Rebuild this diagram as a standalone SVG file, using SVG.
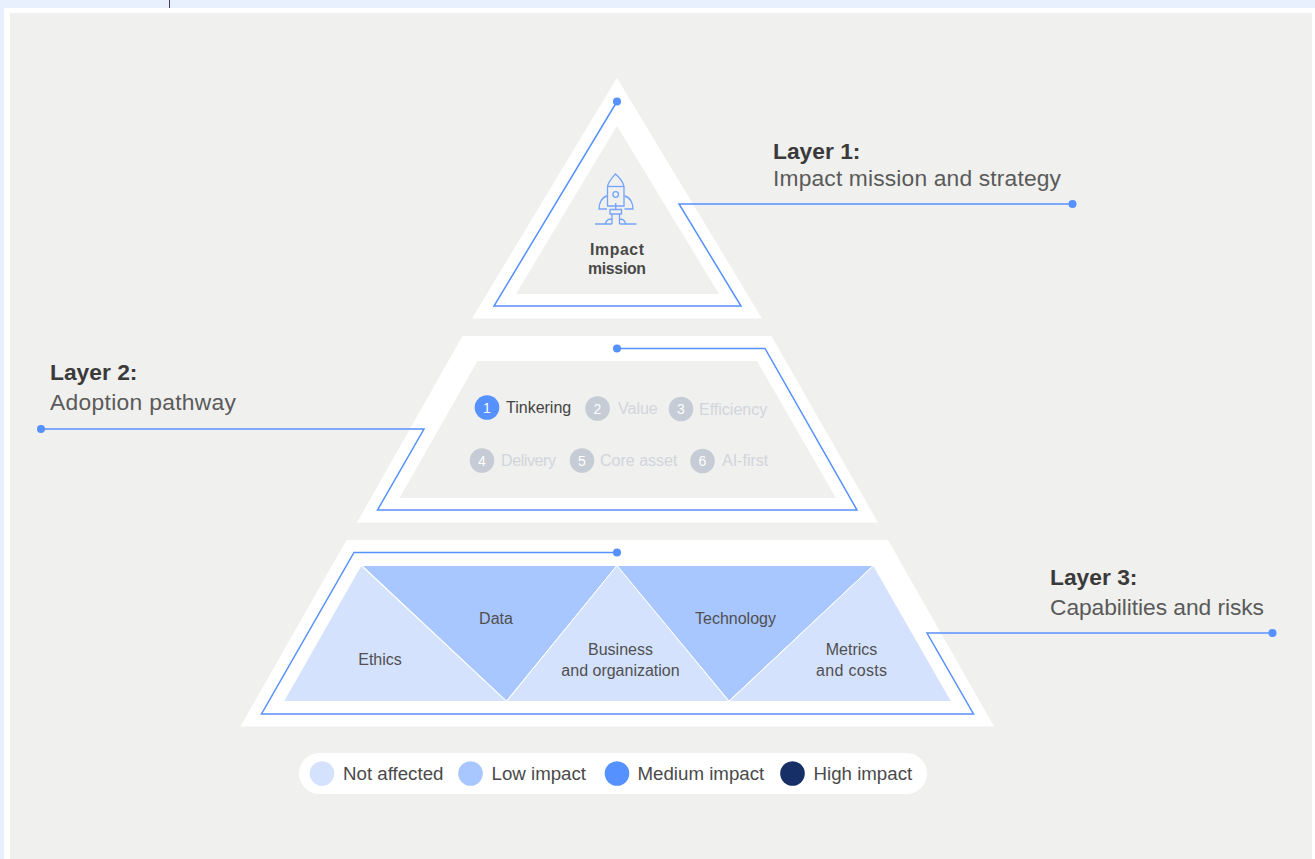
<svg xmlns="http://www.w3.org/2000/svg" width="1315" height="859" viewBox="0 0 1315 859">
<style>
text{font-family:"Liberation Sans",Arial,sans-serif;fill:#444;}
.h{font-size:22.800px;font-weight:700;fill:#3a3a3a}
.s{font-size:22.800px;fill:#5a5a5a}
.t{font-size:16px;text-anchor:middle;fill:#505050}
.m{font-size:15.800px;font-weight:700;text-anchor:middle;fill:#484848}
.n{font-size:14px;text-anchor:middle;fill:#fff}
.o{font-size:16px;fill:#d0d5dc}
.l{font-size:18.700px;fill:#4a4a4a}
.w{fill:#fff}.g{fill:#f0f0ee}
.a{fill:#d4e2fe;stroke:#fff;stroke-width:1}.b{fill:#a8c6ff;stroke:#fff;stroke-width:1}
.c{fill:none;stroke:#5591ff;stroke-width:1.5}
.d{fill:#5591ff}.q{fill:#c5ccd5}
.i{fill:none;stroke:#73a3fc;stroke-width:1.300}
</style>
<rect width="1315" height="859" fill="#e8f0fe"/>
<rect x="4" y="8" width="1311" height="851" fill="#fff"/>
<rect x="10" y="13" width="1302" height="846" class="g"/>
<rect x="169" y="0" width="1" height="8" fill="#444"/>
<g id="layer1">
<polygon class="w" points="617,78 762,318.500 472,318.500"/>
<polygon class="g" points="617,126 719,294 516,294"/>
<g id="rocket" class="i">
<path d="M607.500 186.500C609 180 613 177 615.500 174C618.500 177 622.500 180 624 186.500V206H607.500Z"/>
<path d="M607.500 186.500H624"/>
<circle cx="615.700" cy="194.500" r="2.800"/>
<path d="M615.700 203V209"/>
<path d="M607 196C602 197 599 203 599 209H607M624.500 196C630 197 633 203 633 209H624.500"/>
<path d="M610 209.500H621.500V214H610ZM612 214V224M619.500 214V224M605 224C607 219 609 219 612 219M626 224C624 219 622 219 619.500 219"/>
<path d="M595 224H612M619.500 224H636.500"/>
</g>
<text class="m" x="617" y="255" textLength="54">Impact</text>
<text class="m" x="617" y="274" textLength="58">mission</text>
<text class="h" x="773" y="159">Layer 1:</text>
<text class="s" x="773" y="186" textLength="288">Impact mission and strategy</text>
</g>
<g id="layer2">
<polygon class="w" points="462.500,336 771.500,336 878,522.500 357,522.500"/>
<polygon class="g" points="477.500,361 757,361 836,498 399.500,498"/>
<circle class="d" cx="487" cy="407.500" r="12.300"/><text class="n" x="487" y="412.500">1</text>
<text x="506" y="413" font-size="16" fill="#505050">Tinkering</text>
<circle class="q" cx="597.500" cy="408.500" r="12.300"/><text class="n" x="597.500" y="413.500">2</text>
<text class="o" x="618" y="414">Value</text>
<circle class="q" cx="681" cy="409" r="12.300"/><text class="n" x="681" y="414">3</text>
<text class="o" x="699" y="415">Efficiency</text>
<circle class="q" cx="482" cy="460.500" r="12.300"/><text class="n" x="482" y="465.500">4</text>
<text class="o" x="501" y="466" textLength="55">Delivery</text>
<circle class="q" cx="582" cy="460.500" r="12.300"/><text class="n" x="582" y="465.500">5</text>
<text class="o" x="600" y="466">Core asset</text>
<circle class="q" cx="702.500" cy="461" r="12.300"/><text class="n" x="702.500" y="466">6</text>
<text class="o" x="722" y="466">AI-first</text>
<text class="h" x="50" y="380">Layer 2:</text>
<text class="s" x="50" y="410" textLength="186">Adoption pathway</text>
</g>
<g id="layer3">
<polygon class="w" points="346.500,540 888,540 994,726.500 240.500,726.500"/>
<polygon class="a" points="361,565.500 506.500,701.500 283.500,701.500"/>
<polygon class="b" points="362,565.500 617,565.500 506.500,701"/>
<polygon class="a" points="617,565.500 729,701.500 506.500,701.500"/>
<polygon class="b" points="617,565.500 873.500,565.500 729,701"/>
<polygon class="a" points="873.500,565.500 951.500,701.500 729,701.500"/>
<text class="t" x="380" y="665">Ethics</text>
<text class="t" x="496" y="624">Data</text>
<text class="t" x="620.500" y="655">Business</text>
<text class="t" x="620.500" y="676">and organization</text>
<text class="t" x="735.500" y="624">Technology</text>
<text class="t" x="851.500" y="655">Metrics</text>
<text class="t" x="851.500" y="676" textLength="71">and costs</text>
<text class="h" x="1050" y="585">Layer 3:</text>
<text class="s" x="1050" y="615" textLength="214">Capabilities and risks</text>
</g>
<g id="connectors">
<path class="c" d="M617 101.500L494 306H741L679 204H1072"/>
<circle class="d" cx="617" cy="101.500" r="4"/><circle class="d" cx="1072.500" cy="204" r="4"/>
<path class="c" d="M617 348.500H765L857 510H377.500L424 429H41"/>
<circle class="d" cx="617" cy="348.500" r="4"/><circle class="d" cx="41" cy="429" r="4"/>
<path class="c" d="M617 552.500H354L261.500 714H973.500L927 633H1272"/>
<circle class="d" cx="617" cy="552.500" r="4"/><circle class="d" cx="1272.500" cy="633" r="4"/>
</g>
<g id="legend">
<rect x="299" y="753" width="628" height="41" rx="20.500" class="w"/>
<circle cx="322" cy="773.500" r="12.300" fill="#d4e2fe"/><text class="l" x="343" y="780">Not affected</text>
<circle cx="470.500" cy="773.500" r="12.300" fill="#a8c6ff"/><text class="l" x="491.500" y="780">Low impact</text>
<circle cx="617" cy="773.500" r="12.300" fill="#5591ff"/><text class="l" x="637.500" y="780">Medium impact</text>
<circle cx="792.500" cy="773.500" r="12.300" fill="#162f66"/><text class="l" x="813.500" y="780">High impact</text>
</g>
</svg>
